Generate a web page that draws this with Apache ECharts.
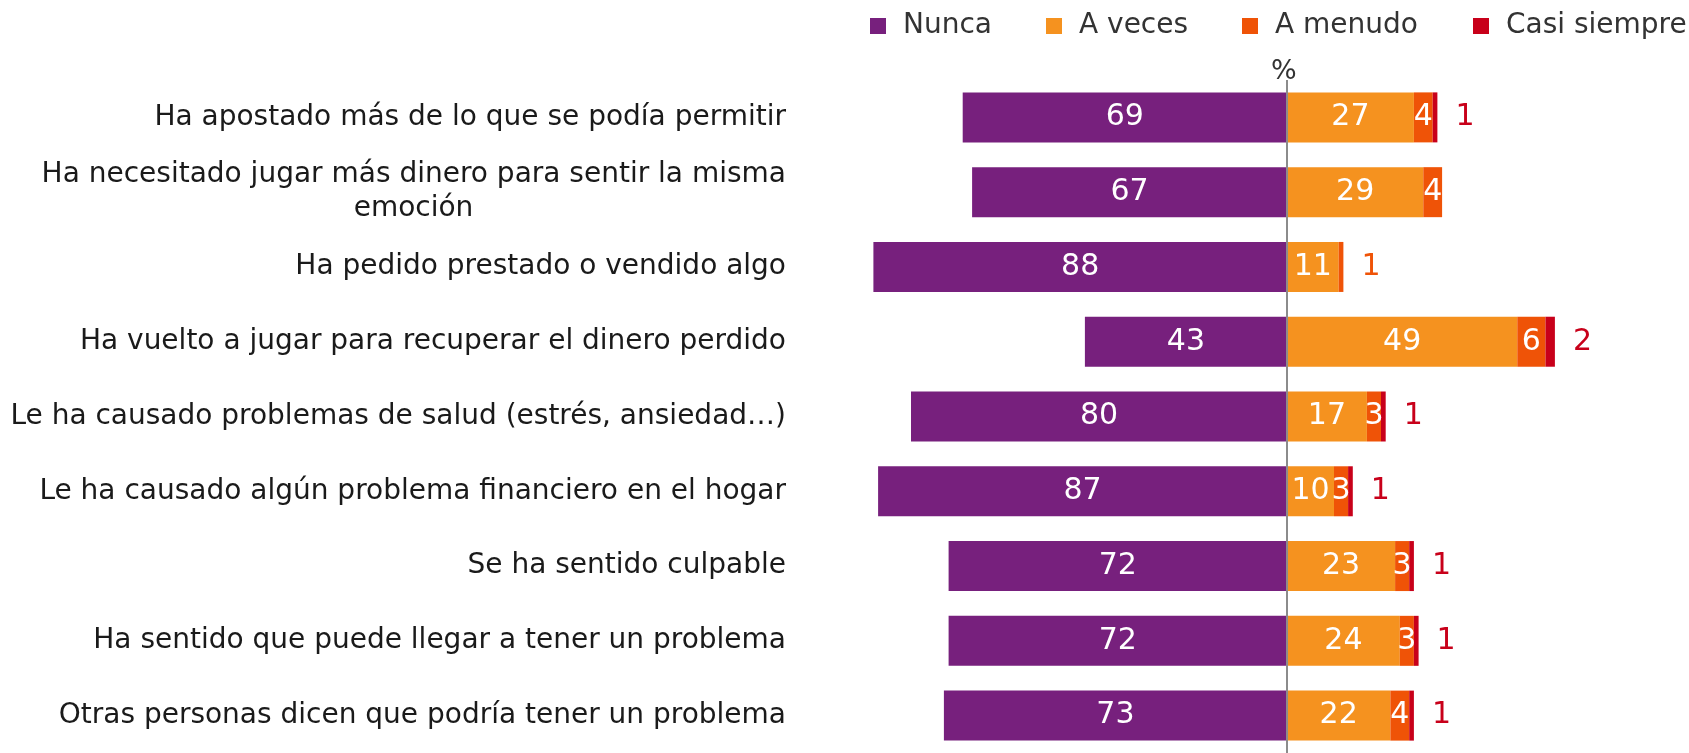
<!DOCTYPE html>
<html>
<head>
<meta charset="utf-8">
<script src="https://cdn.jsdelivr.net/npm/echarts@6/dist/echarts.min.js"></script>
<style>
  html, body { margin: 0; padding: 0; background: #fff; }
  #charts { width: 1689px; height: 753px; }
</style>
</head>
<body>
<div id="charts"></div>
<script>
var categories = [
    'Ha apostado más de lo que se podía permitir',
    'Ha necesitado jugar más dinero para sentir la misma\nemoción',
    'Ha pedido prestado o vendido algo',
    'Ha vuelto a jugar para recuperar el dinero perdido',
    'Le ha causado problemas de salud (estrés, ansiedad…)',
    'Le ha causado algún problema financiero en el hogar',
    'Se ha sentido culpable',
    'Ha sentido que puede llegar a tener un problema',
    'Otras personas dicen que podría tener un problema'
];
var seriesNames = ['Nunca', 'A veces', 'A menudo', 'Casi siempre'];
var nunca = [69, 67, 88, 43, 80, 87, 72, 72, 73];
var aVeces = [27, 29, 11, 49, 17, 10, 23, 24, 22];
var aMenudo = [4, 4, 1, 6, 3, 3, 3, 3, 4];
var casiSiempre = [1, 0, 0, 2, 1, 1, 1, 1, 1];

var font = 'DejaVu Sans';
var colors = ['#77207D', '#F5921F', '#EF5307', '#C8001A'];

var myChart = echarts.init(document.getElementById('charts'));

var insideLabel = {
    show: true,
    position: 'inside',
    color: '#fff',
    fontFamily: font,
    fontSize: 30,
    formatter: function (p) { return Math.abs(p.value); }
};

var menudoData = aMenudo.map(function (v) {
    if (v <= 1) {
        return { value: v, label: { position: 'right', color: colors[2], distance: 18 } };
    }
    return v;
});
var casiData = casiSiempre.map(function (v) {
    return { value: v, label: { show: v > 0 } };
});

// one legend per item so each can sit where the original puts it
var legendLeft = [865, 1041, 1237, 1468];
var legends = seriesNames.map(function (n, i) {
    return {
        left: legendLeft[i],
        top: 7,
        icon: 'rect',
        itemWidth: 16,
        itemHeight: 16,
        textStyle: { fontFamily: font, fontSize: 28, color: '#333', padding: [0, 0, 0, 12] },
        data: [n]
    };
});

option = {
    animation: false,
    color: colors,
    legend: legends,
    graphic: [{
        type: 'text',
        left: 1271,
        top: 58,
        style: { text: '%', font: '27px "DejaVu Sans"', fill: '#333' }
    }],
    grid: { left: 817, right: 120, top: 80, height: 679 },
    xAxis: {
        type: 'value',
        min: -100,
        max: 60,
        show: false
    },
    yAxis: {
        type: 'category',
        inverse: true,
        data: categories,
        axisLine: { show: false },
        axisTick: { show: false },
        axisLabel: {
            margin: 31,
            color: '#1a1a1a',
            fontFamily: font,
            fontSize: 28,
            lineHeight: 34,
            formatter: function (v) {
                var parts = v.split('\n');
                if (parts.length === 1) return v;
                return '{a|' + parts[0] + '}\n{b|' + parts[1] + '}';
            },
            rich: {
                a: { fontFamily: font, fontSize: 28, color: '#1a1a1a', lineHeight: 34 },
                b: { fontFamily: font, fontSize: 28, color: '#1a1a1a', lineHeight: 34, width: 745, align: 'center' }
            }
        }
    },
    series: [
        {
            name: 'Nunca',
            type: 'bar',
            stack: 'total',
            barWidth: 50,
            label: insideLabel,
            data: nunca.map(function (v) { return -v; }),
            markLine: {
                silent: true,
                symbol: 'none',
                label: { show: false },
                lineStyle: { color: '#8c8c8c', width: 2, type: 'solid' },
                data: [{ xAxis: 0 }]
            }
        },
        {
            name: 'A veces',
            type: 'bar',
            stack: 'total',
            barWidth: 50,
            label: insideLabel,
            data: aVeces
        },
        {
            name: 'A menudo',
            type: 'bar',
            stack: 'total',
            barWidth: 50,
            label: insideLabel,
            data: menudoData
        },
        {
            name: 'Casi siempre',
            type: 'bar',
            stack: 'total',
            barWidth: 50,
            label: {
                show: true,
                position: 'right',
                distance: 18,
                color: colors[3],
                fontFamily: font,
                fontSize: 30
            },
            data: casiData
        }
    ]
};

myChart.setOption(option);
</script>
</body>
</html>
